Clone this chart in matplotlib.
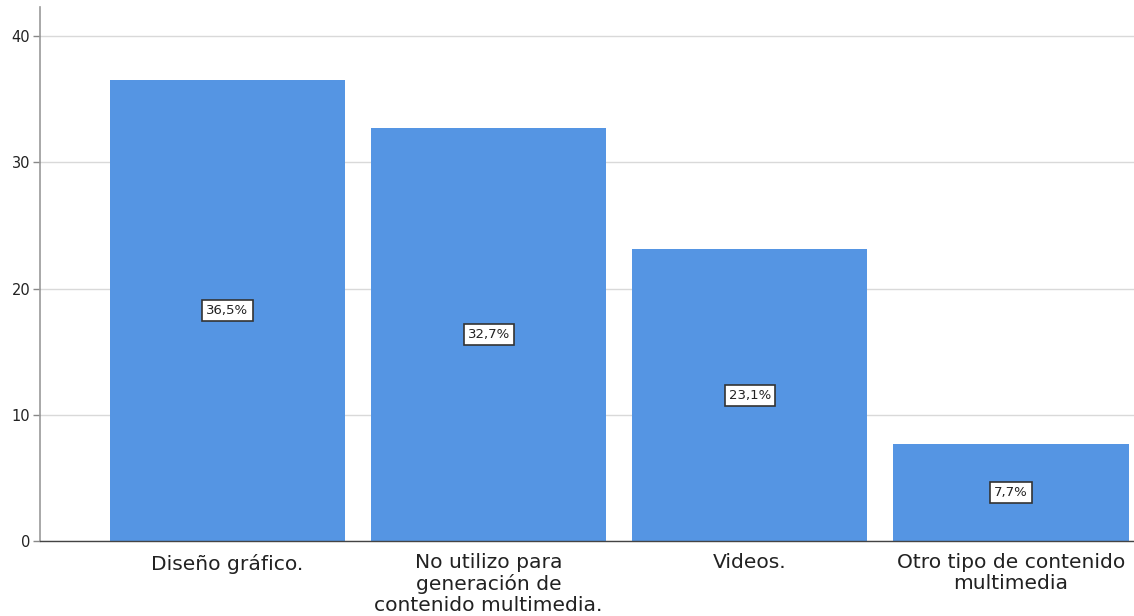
import matplotlib
matplotlib.use("Agg")
import matplotlib.pyplot as plt

categories = [
    "Diseño gráfico.",
    "No utilizo para\ngeneración de\ncontenido multimedia.",
    "Videos.",
    "Otro tipo de contenido\nmultimedia",
]
percentages = [36.5, 32.7, 23.1, 7.7]
y_ticks = [0, 10, 20, 30, 40]

plt.rcParams["font.family"] = ["DejaVu Sans"]

fig = plt.figure(figsize=(11.34, 6.16), dpi=100)
ax = fig.add_axes([40 / 1134, 75 / 616, 1 - 40 / 1134, (541 - 7) / 616])

x = list(range(len(categories)))
ax.bar(x, percentages, width=0.9, color="#5595e3", zorder=2)

for xi, v in zip(x, percentages):
    ax.text(xi, v / 2, f"{v:.1f}".replace(".", ",") + "%", ha="center", va="center",
            fontsize=9.5, color="#222222", zorder=3,
            bbox=dict(boxstyle="square,pad=0.3", facecolor="white",
                      edgecolor="#333333", linewidth=1.2))

ax.set_xlim(-0.718, 3.471)
ax.set_ylim(0, 42.3)
ax.set_yticks(y_ticks)
ax.set_xticks(x)
ax.set_xticklabels(categories, fontsize=14.6, color="#222222", linespacing=1.12)
ax.tick_params(axis="x", length=0, pad=9)
ax.tick_params(axis="y", length=5, width=1, color="#888888", labelsize=10.5,
               labelcolor="#222222", pad=2)

ax.yaxis.grid(True, color="#d9d9d9", linewidth=1, zorder=0)
ax.set_axisbelow(True)
for side in ["top", "right"]:
    ax.spines[side].set_visible(False)
ax.spines["left"].set_color("#999999")
ax.spines["left"].set_linewidth(1.2)
ax.spines["bottom"].set_color("#444444")
ax.spines["bottom"].set_linewidth(1)

fig.savefig("out.png", dpi=100)
